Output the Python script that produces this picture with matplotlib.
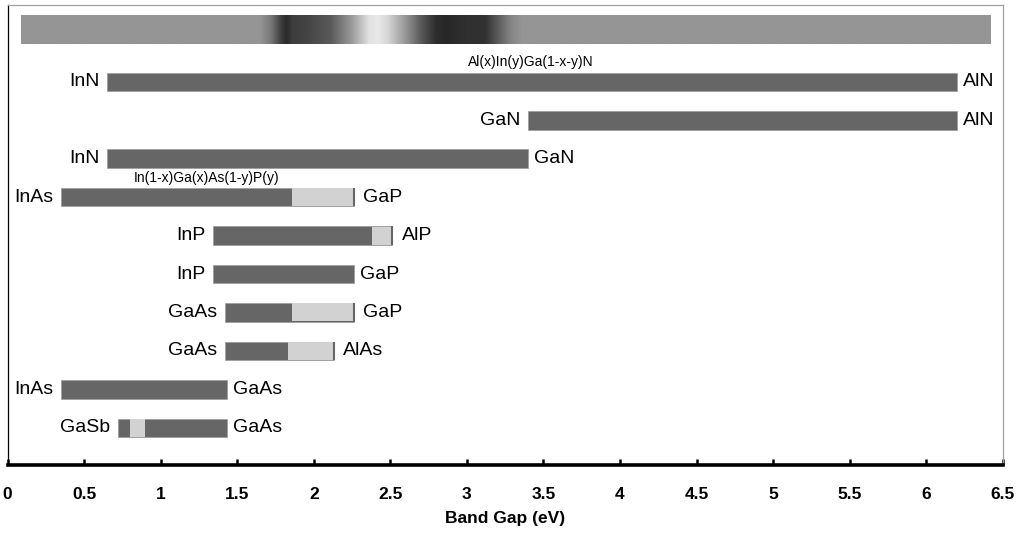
import matplotlib
matplotlib.use('Agg')
import matplotlib.pyplot as plt
import numpy as np

plt.rcParams['font.family'] = ['Liberation Sans', 'DejaVu Sans']

# ---- data ----
left_labels = ['InN', 'GaN', 'InN', 'InAs', 'InP', 'InP', 'GaAs', 'GaAs', 'InAs', 'GaSb']
right_labels = ['AlN', 'AlN', 'GaN', 'GaP', 'AlP', 'GaP', 'GaP', 'AlAs', 'GaAs', 'GaAs']
bar_starts = [0.65, 3.40, 0.65, 0.35, 1.34, 1.34, 1.42, 1.42, 0.35, 0.72]
bar_ends = [6.20, 6.20, 3.40, 2.26, 2.51, 2.26, 2.26, 2.13, 1.43, 1.43]
indirect_starts = [None, None, None, 1.86, 2.38, None, 1.86, 1.83, None, 0.80]
indirect_ends = [None, None, None, 2.26, 2.51, None, 2.26, 2.13, None, 0.90]

alloy_names = ['Al(x)In(y)Ga(1-x-y)N', 'In(1-x)Ga(x)As(1-y)P(y)']
alloy_x = [3.42, 1.30]
alloy_row = [-0.52, 2.50]

xticks = [0, 0.5, 1, 1.5, 2, 2.5, 3, 3.5, 4, 4.5, 5, 5.5, 6, 6.5]
xtick_labels = ['0', '0.5', '1', '1.5', '2', '2.5', '3', '3.5', '4', '4.5', '5', '5.5', '6', '6.5']

# grayscale spectrum strip (energy in eV, gray level 0-255)
strip_range = [0.09, 6.42]
grad_energy = [0.09, 1.65, 1.72, 1.79, 1.82, 1.86, 1.95, 2.11, 2.25, 2.36, 2.42,
               2.48, 2.60, 2.70, 2.80, 2.86, 3.00, 3.12, 3.18, 3.28, 3.36, 6.42]
grad_level = [149, 149, 120, 60, 42, 62, 68, 90, 155, 225, 232,
              215, 150, 90, 45, 40, 48, 50, 80, 130, 149, 149]

DARK = '#666666'
LIGHT = '#d2d2d2'

W, H = 1018, 534
fig = plt.figure(figsize=(W / 100, H / 100), dpi=100)
ax = fig.add_axes([7.6 / W, 1 - 465 / H, 995.1 / W, 460 / H])
ax.set_xlim(0, 6.5)
ax.set_ylim(9.97, -2.0)

# spectrum strip
E = np.linspace(strip_range[0], strip_range[1], 1200)
g = np.interp(E, grad_energy, grad_level) / 255.0
ax.imshow(g[np.newaxis, :], cmap='gray', vmin=0, vmax=1, aspect='auto',
          extent=[strip_range[0], strip_range[1], -0.99, -1.727],
          interpolation='bilinear', zorder=1)

bh = 0.48
rows = np.arange(len(left_labels))
ax.barh(rows, np.array(bar_ends) - np.array(bar_starts), left=bar_starts, height=bh,
        color=DARK, edgecolor='#9a9a9a', linewidth=0.5, zorder=2)
for i in rows:
    end_light = indirect_ends[i] is not None and abs(indirect_ends[i] - bar_ends[i]) < 1e-9
    if indirect_starts[i] is not None:
        ax.barh(i, indirect_ends[i] - indirect_starts[i], left=indirect_starts[i],
                height=bh * 0.97, color=LIGHT, edgecolor='none', zorder=3)
        if end_light:
            ax.plot([bar_ends[i], bar_ends[i]], [i - bh / 2, i + bh / 2],
                    color=DARK, lw=1.5, zorder=4, solid_capstyle='butt')
    ax.annotate(left_labels[i], (bar_starts[i], i), xytext=(-5.5, 0),
                textcoords='offset points', ha='right', va='center', fontsize=14)
    ax.annotate(right_labels[i], (bar_ends[i], i), xytext=(7 if end_light else 4.5, 0),
                textcoords='offset points', ha='left', va='center', fontsize=14)

for name, xx, rr in zip(alloy_names, alloy_x, alloy_row):
    ax.text(xx, rr, name, ha='center', va='center', fontsize=10)

# axes styling
ax.set_yticks([])
ax.set_xticks(xticks)
ax.set_xticklabels(xtick_labels, fontweight='bold', fontsize=12.5)
ax.tick_params(axis='x', direction='in', length=4.5, width=1.8, color='black', pad=15.5)
ax.spines['bottom'].set_linewidth(2.6)
ax.spines['bottom'].set_color('black')
ax.spines['left'].set_color('black')
ax.spines['left'].set_linewidth(0.9)
ax.spines['top'].set_color('#a0a0a0')
ax.spines['right'].set_color('#a0a0a0')
ax.spines['top'].set_linewidth(0.9)
ax.spines['right'].set_linewidth(0.9)
ax.set_xlabel('Band Gap (eV)', fontweight='bold', fontsize=12.5, labelpad=7)

fig.savefig('out.png', dpi=100)
